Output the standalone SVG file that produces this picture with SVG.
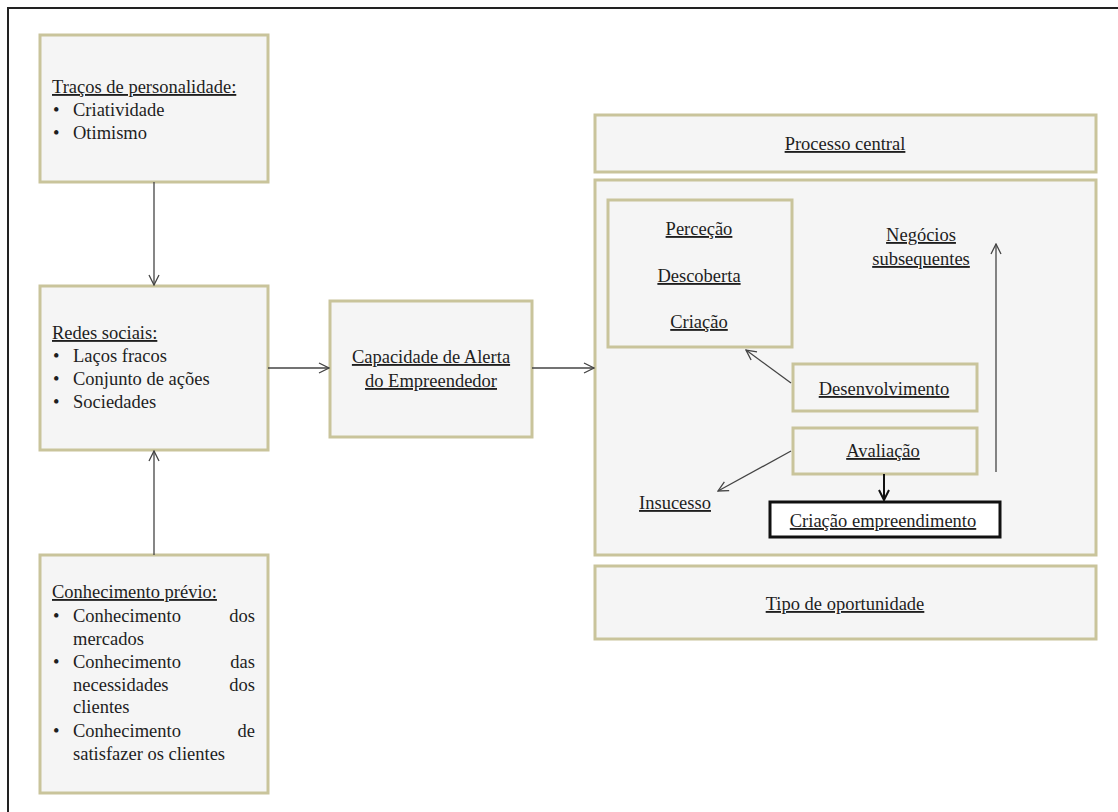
<svg xmlns="http://www.w3.org/2000/svg" width="1118" height="812" viewBox="0 0 1118 812">
<defs>
<style>
.box{fill:#f5f5f5;stroke:#c9c49b;stroke-width:3}
.t{font-family:"Liberation Serif","Times New Roman",serif;font-size:18.5px;fill:#1e1e1e}
.u{text-decoration:underline}
.m{text-anchor:middle}
.e{text-anchor:end}
.c{fill:none;stroke:#444;stroke-width:1.3}
</style>
<marker id="ah" viewBox="0 0 12 12" refX="11" refY="6" markerWidth="12" markerHeight="12" markerUnits="userSpaceOnUse" orient="auto">
<path d="M1,1 L11,6 L1,11" fill="none" stroke="#444" stroke-width="1.3"/>
</marker>
<marker id="ahb" viewBox="0 0 12 12" refX="11" refY="6" markerWidth="12" markerHeight="12" markerUnits="userSpaceOnUse" orient="auto">
<path d="M1,1 L11,6 L1,11" fill="none" stroke="#111" stroke-width="2"/>
</marker>
</defs>
<rect width="1118" height="812" fill="#fff"/>
<path d="M8,812 V8 H1118" fill="none" stroke="#222" stroke-width="2"/>

<g id="tracos" font-family="Liberation Serif, serif">
<rect class="box" x="40" y="35" width="228" height="147"/>
<text class="t u" x="52" y="93">Traços  de personalidade:</text>
<text class="t" x="53" y="116">•</text><text class="t" x="73" y="116">Criatividade</text>
<text class="t" x="53" y="139">•</text><text class="t" x="73" y="139">Otimismo</text>
</g>

<g id="redes">
<rect class="box" x="40" y="286" width="228" height="164"/>
<text class="t u" x="52" y="339">Redes sociais:</text>
<text class="t" x="53" y="362">•</text><text class="t" x="73" y="362">Laços fracos</text>
<text class="t" x="53" y="385">•</text><text class="t" x="73" y="385">Conjunto  de ações</text>
<text class="t" x="53" y="408">•</text><text class="t" x="73" y="408">Sociedades</text>
</g>

<g id="conhecimento">
<rect class="box" x="40" y="555" width="228" height="238"/>
<text class="t u" x="52" y="598">Conhecimento  prévio:</text>
<text class="t" x="53" y="622">•</text><text class="t" x="73" y="622">Conhecimento</text><text class="t e" x="255" y="622">dos</text>
<text class="t" x="73" y="645">mercados</text>
<text class="t" x="53" y="668">•</text><text class="t" x="73" y="668">Conhecimento</text><text class="t e" x="255" y="668">das</text>
<text class="t" x="73" y="691">necessidades</text><text class="t e" x="255" y="691">dos</text>
<text class="t" x="73" y="713">clientes</text>
<text class="t" x="53" y="737">•</text><text class="t" x="73" y="737">Conhecimento</text><text class="t e" x="255" y="737">de</text>
<text class="t" x="73" y="760">satisfazer  os clientes</text>
</g>

<g id="capacidade">
<rect class="box" x="330" y="301" width="202" height="136"/>
<text class="t u m" x="431" y="363">Capacidade  de Alerta</text>
<text class="t u m" x="431" y="387">do Empreendedor</text>
</g>

<g id="processo">
<rect class="box" x="595" y="115" width="501" height="57"/>
<text class="t u m" x="845" y="150">Processo  central</text>
</g>

<g id="nucleo">
<rect class="box" x="595" y="180" width="501" height="375"/>
</g>

<g id="percecao">
<rect class="box" x="608" y="200" width="184" height="147"/>
<text class="t u m" x="699" y="235">Perceção</text>
<text class="t u m" x="699" y="282">Descoberta</text>
<text class="t u m" x="699" y="328">Criação</text>
</g>

<g id="negocios">
<text class="t u m" x="921" y="241">Negócios</text>
<text class="t u m" x="921" y="265">subsequentes</text>
</g>

<g id="desenvolvimento">
<rect class="box" x="793" y="364" width="184" height="47"/>
<text class="t u m" x="884" y="395">Desenvolvimento</text>
</g>

<g id="avaliacao">
<rect class="box" x="793" y="428" width="184" height="46"/>
<text class="t u m" x="883" y="457">Avaliação</text>
</g>

<g id="insucesso">
<text class="t u m" x="675" y="509">Insucesso</text>
</g>

<g id="criacao-emp">
<rect x="770" y="502" width="230" height="35" fill="#fff" stroke="#111" stroke-width="3"/>
<text class="t u m" x="883" y="527">Criação  empreendimento</text>
</g>

<g id="tipo">
<rect class="box" x="595" y="566" width="501" height="73"/>
<text class="t u m" x="845" y="610">Tipo  de oportunidade</text>
</g>

<g id="connectors">
<line class="c" x1="154" y1="182" x2="154" y2="285" marker-end="url(#ah)"/>
<line class="c" x1="154" y1="555" x2="154" y2="451" marker-end="url(#ah)"/>
<line class="c" x1="268" y1="368" x2="329" y2="368" marker-end="url(#ah)"/>
<line class="c" x1="532" y1="368" x2="594" y2="368" marker-end="url(#ah)"/>
<line class="c" x1="791" y1="383" x2="746" y2="350" marker-end="url(#ah)"/>
<line class="c" x1="791" y1="451" x2="718" y2="491" marker-end="url(#ah)"/>
<line x1="884" y1="474" x2="884" y2="500" fill="none" stroke="#111" stroke-width="2" marker-end="url(#ahb)"/>
<line class="c" x1="996" y1="472" x2="996" y2="244" marker-end="url(#ah)"/>
</g>
</svg>
